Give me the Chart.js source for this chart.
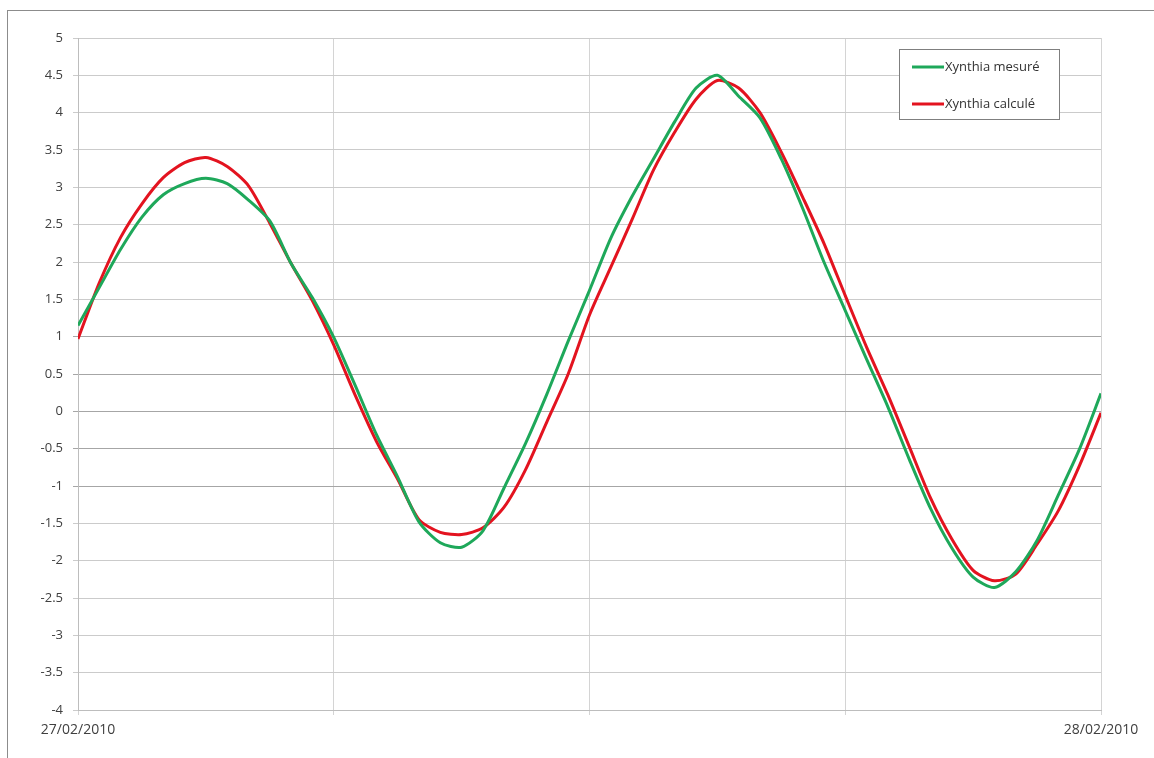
<!DOCTYPE html>
<html>
<head>
<meta charset="utf-8">
<script src="https://cdn.jsdelivr.net/npm/chart.js@4"></script>
<style>
  html, body { margin: 0; padding: 0; background: #fff; }
  #wrap { width: 1154px; height: 758px; }
</style>
</head>
<body>
<div id="wrap"><canvas id="tide-chart" width="1154" height="758"></canvas></div>
<script>
// hours from 27/02/2010 00:00, every 30 min
const hours = [0,0.5,1,1.5,2,2.5,3,3.5,4,4.5,5,5.5,6,6.5,7,7.5,8,8.5,9,9.5,10,10.5,11,11.5,
  12,12.5,13,13.5,14,14.5,15,15.5,16,16.5,17,17.5,18,18.5,19,19.5,20,20.5,21,21.5,22,22.5,23,23.5,24];

const mesure = [1.15,1.66,2.17,2.6,2.9,3.05,3.12,3.05,2.83,2.55,1.98,1.52,0.99,0.35,-0.31,-0.88,
  -1.48,-1.76,-1.82,-1.6,-1.02,-0.43,0.23,0.94,1.62,2.32,2.88,3.38,3.88,4.33,4.5,4.22,3.93,3.38,
  2.72,2.0,1.35,0.7,0.06,-0.64,-1.3,-1.83,-2.22,-2.36,-2.15,-1.73,-1.12,-0.5,0.24];

const calcule = [0.97,1.72,2.33,2.78,3.13,3.33,3.4,3.28,3.02,2.52,1.98,1.48,0.89,0.22,-0.4,-0.91,
  -1.45,-1.62,-1.65,-1.56,-1.28,-0.78,-0.14,0.5,1.29,1.93,2.57,3.23,3.74,4.18,4.43,4.33,4.0,3.47,
  2.87,2.25,1.55,0.86,0.22,-0.47,-1.16,-1.71,-2.13,-2.27,-2.18,-1.78,-1.33,-0.72,-0.02];

const seriesNames = ['Xynthia mesuré', 'Xynthia calculé'];
const xLabels = {0: '27/02/2010', 24: '28/02/2010'};

function pts(vals) {
  return vals.map((v, i) => ({x: hours[i], y: v}));
}

// frame round the whole chart + legend box inside the plot
const decor = {
  id: 'decor',
  afterDraw(chart) {
    const ctx = chart.ctx;
    ctx.save();
    ctx.strokeStyle = '#8c8c8c';
    ctx.lineWidth = 1;
    ctx.strokeRect(7.5, 10.5, 1170, 770);

    let bx = 899.5, by = 49.5, bw = 160, bh = 70;
    ctx.fillStyle = '#fff';
    ctx.fillRect(bx, by, bw, bh);
    ctx.strokeStyle = '#7f7f7f';
    ctx.strokeRect(bx, by, bw, bh);
    ctx.font = '13px "Open Sans"';
    ctx.textBaseline = 'middle';
    chart.data.datasets.forEach((ds, i) => {
      let y = 67 + i * 37;
      ctx.strokeStyle = ds.borderColor;
      ctx.lineWidth = 3;
      ctx.beginPath();
      ctx.moveTo(912, y);
      ctx.lineTo(944, y);
      ctx.stroke();
      ctx.fillStyle = '#333';
      ctx.fillText(ds.label, 945, y);
    });
    ctx.restore();
  }
};

let ctx = document.getElementById('tide-chart').getContext('2d');
let chart = new Chart(ctx, {
  type: 'line',
  data: {
    datasets: [{
      label: seriesNames[0],
      data: pts(mesure),
      borderColor: '#1ea85a',
      borderWidth: 3,
      pointRadius: 0,
      lineTension: 0.25,
    }, {
      label: seriesNames[1],
      data: pts(calcule),
      borderColor: '#e3131f',
      borderWidth: 3,
      pointRadius: 0,
      lineTension: 0.25,
    }]
  },
  options: {
    responsive: false,
    animation: false,
    layout: { padding: { top: 38, right: 53, left: 0, bottom: 0 } },
    plugins: { legend: { display: false }, tooltip: { enabled: false } },
    scales: {
      x: {
        type: 'linear',
        min: 0, max: 24,
        afterFit(scale) { scale.height = 48; },
        ticks: {
          stepSize: 6,
          autoSkip: false,
          maxRotation: 0,
          padding: 7,
          color: '#404040',
          font: { family: 'Open Sans', size: 14 },
          callback: (v) => xLabels[v] || ''
        },
        grid: { color: '#d4d4d4', tickLength: 5 },
        border: { color: '#bdbdbd' }
      },
      y: {
        min: -4, max: 5,
        afterFit(scale) { scale.width = 78; },
        ticks: {
          stepSize: 0.5,
          padding: 10,
          color: '#404040',
          font: { family: 'Open Sans', size: 13 },
          callback: (v) => String(Math.round(v * 10) / 10)
        },
        grid: {
          tickLength: 5,
          color: (c) => (c.tick && Math.abs(c.tick.value) <= 1) ? '#a6a6a6' : '#cbcbcb'
        },
        border: { color: '#bdbdbd' }
      }
    }
  },
  plugins: [decor]
});
</script>
</body>
</html>
